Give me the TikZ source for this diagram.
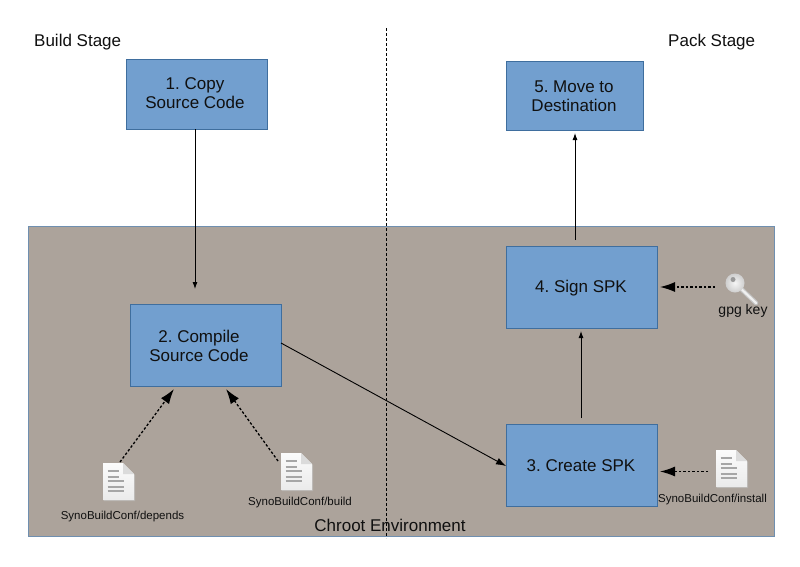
\documentclass[tikz,border=0pt]{standalone}
\usepackage{fontspec}
\setmainfont{Liberation Sans}
\usetikzlibrary{arrows.meta,calc}
\definecolor{stepfill}{HTML}{729FCF}
\definecolor{stepedge}{HTML}{3F6E9E}
\definecolor{chrootfill}{HTML}{ACA39B}
\definecolor{chrootedge}{HTML}{6F8FB0}
\definecolor{inkdark}{HTML}{101010}
\tikzset{
  stepbox/.style={draw=stepedge,line width=1pt,fill=stepfill,inner sep=0pt,anchor=north west},
  steptext/.style={font=\fontsize{17}{19}\selectfont\frenchspacing,text=inkdark,align=center,inner sep=0pt},
  caption/.style={font=\fontsize{17}{19}\selectfont,text=inkdark,inner sep=0pt},
  smallcap/.style={font=\fontsize{11.5}{13}\selectfont,text=inkdark,inner sep=0pt},
  flow/.style={line width=0.9pt,black,-{Latex[length=7pt,width=5pt]}},
  feed/.style={line width=1.3pt,black,dash pattern=on 2.5pt off 2pt,-{Latex[length=15pt,width=10pt]}},
  pics/docicon/.style={code={
    % page with a folded corner and a few text lines; origin is the top left corner
    \fill[black!25,opacity=.6] (1,1) -- (20,1) -- (32,12) -- (32,38) -- (1,38) -- cycle;
    \shade[top color=white!97!gray,bottom color=white!84!gray] (0,0) -- (20,0) -- (31,11) -- (31,37) -- (0,37) -- cycle;
    \fill[white!72!gray] (20,0) -- (31,11) -- (20,11) -- cycle;
    \foreach \yy/\xx in {8/11,14/11,18/16.5,24/16.5,28/16.5}
      \draw[gray!70,line width=1.5pt] (4.5,\yy) -- (\xx+4.5,\yy);
  }}
}
\begin{document}
\begin{tikzpicture}[x=1pt,y=-1pt]
\useasboundingbox (0,0) rectangle (800,566);
\fill[white] (0,0) rectangle (800,566);

% chroot area
\node[draw=chrootedge,line width=1pt,fill=chrootfill,minimum width=745.5pt,minimum height=309.5pt,inner sep=0pt,anchor=north west] (chroot) at (28,226) {};

% stage separator
\coordinate (septop) at (386.5,28);
\coordinate (sepbot) at (386.5,538);
\draw[black,line width=0.9pt,dash pattern=on 2.5pt off 2.5pt] (septop) -- (sepbot);

% steps
\node[stepbox,minimum width=141pt,minimum height=70pt] (copy) at (125.8,59) {};
\node[steptext] (copytext) at (195,93.5) {1. Copy\\Source Code};
\node[stepbox,minimum width=151pt,minimum height=81.5pt] (compile) at (130,304) {};
\node[steptext] (compiletext) at (199,345.5) {2. Compile\\Source Code};
\node[stepbox,minimum width=151pt,minimum height=82pt] (create) at (506,424) {};
\node[steptext] (createtext) at (581,465.5) {3. Create SPK};
\node[stepbox,minimum width=151pt,minimum height=82pt] (sign) at (506,246) {};
\node[steptext] (signtext) at (581,288) {4. Sign SPK};
\node[stepbox,minimum width=137pt,minimum height=69pt] (move) at (506,61) {};
\node[steptext] (movetext) at (574,96) {5. Move to\\Destination};

% captions
\node[caption,anchor=west] (build) at (34,42.5) {Build Stage};
\node[caption,anchor=west] (pack) at (668,42.5) {Pack Stage};
\node[caption] (env) at (390,525.5) {Chroot Environment};

% input files
\coordinate (fdepends) at (103,463);
\coordinate (fbuild) at (281,453);
\coordinate (finstall) at (716,450);
\pic at (fdepends) {docicon};
\pic at (fbuild) {docicon};
\pic at (finstall) {docicon};
\node[smallcap] (ldepends) at (122.5,516.5) {SynoBuildConf/depends};
\node[smallcap] (lbuild) at (300,502.5) {SynoBuildConf/build};
\node[smallcap] (linstall) at (712.5,500) {SynoBuildConf/install};

% signing key
\coordinate (keyhead) at (735,283);
\coordinate (keytip) at (756,303);
\draw[line cap=round,white!55!gray,line width=4.5pt] (keyhead) -- (keytip);
\draw[line cap=round,white!88!gray,line width=2.2pt] (keyhead) -- (keytip);
\shade[inner color=white!92!gray,outer color=white!62!gray] (keyhead) circle (9.5pt);
\fill[gray!80] (733,279.5) circle (2.5pt);
\node[font=\fontsize{14}{16}\selectfont,text=inkdark,inner sep=0pt] (lkey) at (743,311) {gpg key};

% flow
\coordinate (a1) at (195,129);
\coordinate (a2) at (195,289);
\draw[flow] (a1) -- (a2);
\coordinate (b1) at (281,343);
\coordinate (b2) at (506,466);
\draw[flow,-{Latex[length=10pt,width=7pt]}] (b1) -- (b2);
\coordinate (c1) at (581,418);
\coordinate (c2) at (581,331);
\draw[flow] (c1) -- (c2);
\coordinate (d1) at (575,240);
\coordinate (d2) at (575,133);
\draw[flow] (d1) -- (d2);

% feeds into the steps
\coordinate (e1) at (120,462);
\coordinate (e2) at (174,389);
\draw[feed] (e1) -- (e2);
\coordinate (f1) at (278,461);
\coordinate (f2) at (226,389);
\draw[feed] (f1) -- (f2);
\coordinate (g1) at (708,471.5);
\coordinate (g2) at (660,471.5);
\draw[feed] (g1) -- (g2);
\coordinate (h1) at (715,287);
\coordinate (h2) at (660,287);
\draw[feed] (h1) -- (h2);
\end{tikzpicture}
\end{document}
